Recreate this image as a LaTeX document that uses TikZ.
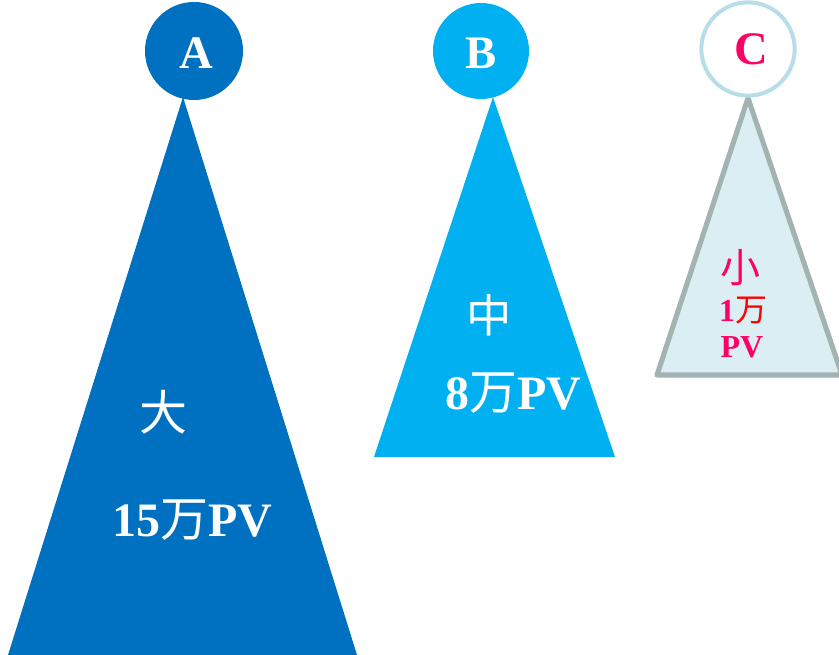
\documentclass[tikz,border=0pt]{standalone}
\usepackage{fontspec}
\setmainfont{Liberation Serif}
\newfontfamily\cjk{Noto Sans CJK SC}
\definecolor{blueA}{HTML}{0070C0}
\definecolor{blueB}{HTML}{00B0F0}
\definecolor{pinkC}{HTML}{FF0066}
\definecolor{redC}{HTML}{FF0000}
\definecolor{fillC}{HTML}{DAEEF3}
\definecolor{edgeC}{HTML}{A2B3B2}
\definecolor{ringC}{HTML}{B7DEE8}
\tikzset{
  badge/.style={circle, minimum size=#1, inner sep=0pt},
  lettr/.style={font=\bfseries\fontsize{35pt}{35pt}\selectfont, anchor=base},
}
\begin{document}
\begin{tikzpicture}[x=0.75pt,y=-0.75pt]
\useasboundingbox (0,0) rectangle (839,655);
% triangles
\fill[blueA] (183,97) -- (357,655) -- (8,655) -- cycle;
\fill[blueB] (493,97) -- (615,457) -- (374,457) -- cycle;
\filldraw[fill=fillC, draw=edgeC, line width=3.8pt, line join=round] (748,98) -- (842,375) -- (657,375) -- cycle;
% circles
\node[badge=73.5pt, fill=blueA] (cA) at (194,51) {};
\node[badge=72pt, fill=blueB] (cB) at (481,51) {};
\node[badge=70pt, fill=white, draw=ringC, line width=3pt] (cC) at (748,49) {};
% letters
\node[lettr, text=white] (tA) at (196,69) {A};
\node[lettr, text=white] (tB) at (481,69) {B};
\node[lettr, text=pinkC] (tC) at (751,65) {C};
% A texts
\node[text=white, font=\cjk\fontsize{36pt}{36pt}\selectfont] (dA) at (163,412) {大};
\node[text=white, anchor=base, font=\bfseries\fontsize{36pt}{36pt}\selectfont] (nA) at (192,537) {15{\cjk\mdseries 万}PV};
% B texts
\node[text=white, font=\cjk\fontsize{34pt}{34pt}\selectfont] (dB) at (489,315) {中};
\node[text=white, anchor=base, font=\bfseries\fontsize{36pt}{36pt}\selectfont] (nB) at (513,410) {8{\cjk\mdseries 万}PV};
% C texts
\node[text=pinkC, font=\cjk\fontsize{30pt}{30pt}\selectfont] (dC) at (740,268) {小};
\node[text=pinkC, anchor=base, font=\bfseries\fontsize{24pt}{24pt}\selectfont] (nC) at (743,322) {1{\cjk\mdseries\color{redC}万}};
\node[text=pinkC, anchor=base, font=\bfseries\fontsize{24pt}{24pt}\selectfont] (pC) at (742,358) {PV};
\end{tikzpicture}
\end{document}
